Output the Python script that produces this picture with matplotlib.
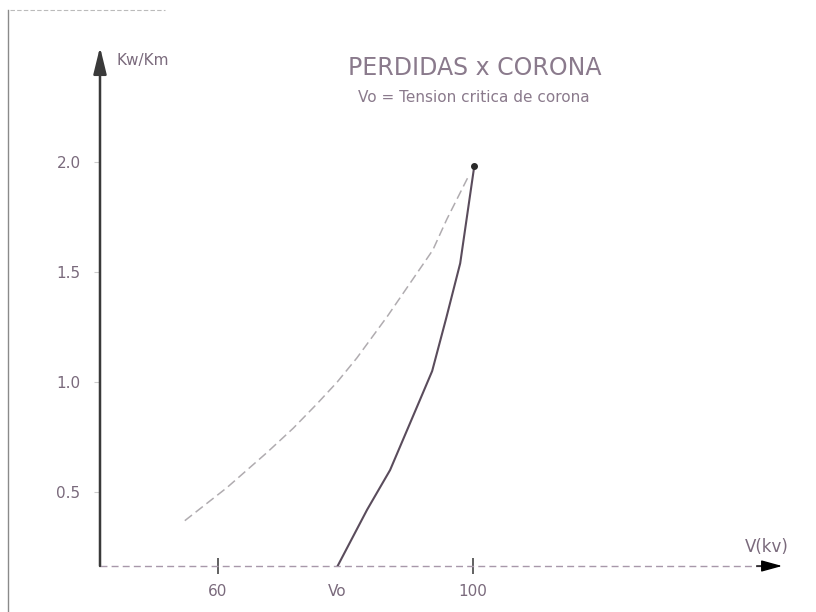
import matplotlib
matplotlib.use("Agg")
import matplotlib.pyplot as plt
from matplotlib.lines import Line2D

# ---- data ----
# light curve
v_light = [54.8, 61.4, 67.7, 71.8, 75.5, 78.7, 81.8, 86.6, 93.7, 95.9, 99.2]
p_light = [0.37, 0.52, 0.68, 0.79, 0.90, 1.00, 1.11, 1.30, 1.60, 1.74, 1.93]
# dark curve (starts at Vo)
v_dark = [78.7, 83.4, 87.0, 91.7, 93.6, 95.8, 98.0, 100.2]
p_dark = [0.16, 0.42, 0.60, 0.92, 1.05, 1.29, 1.54, 1.98]

x_ticks = [60, 100]
x_tick_labels = ["60", "100"]
vo_value = 78.7
vo_label = "Vo"
y_ticks = [0.5, 1.0, 1.5, 2.0]
y_tick_labels = ["0.5", "1.0", "1.5", "2.0"]

title = "PERDIDAS x CORONA"
subtitle = "Vo = Tension critica de corona"
ylabel = "Kw/Km"
xlabel = "V(kv)"

TXT = "#7a6a7c"
W, H = 816, 612

fig = plt.figure(figsize=(W / 100, H / 100), dpi=100)
fig.patch.set_facecolor("white")

ax = fig.add_axes([100 / W, (H - 566) / H, 700 / W, 526 / H])
x0, x1 = 41.5, 151.3
y0, y1 = 0.164, 2.555
ax.set_xlim(x0, x1)
ax.set_ylim(y0, y1)
for s in ax.spines.values():
    s.set_visible(False)
ax.patch.set_alpha(0)

# curves
ax.plot(v_light, p_light, color="#b0acb0", lw=1.1, ls=(0, (6, 3)), zorder=3)
ax.plot(v_dark, p_dark, color="#5a4c5c", lw=1.5, zorder=4)
ax.plot(v_dark[-1:], p_dark[-1:], marker="o", ms=4, color="#2a2a2a", zorder=5)

# y axis with arrow
ax.annotate("", xy=(x0, 2.523), xytext=(x0, y0),
            arrowprops=dict(arrowstyle="-|>,head_length=0.9,head_width=0.22",
                            color="#3a3a3a", lw=1.8,
                            mutation_scale=18, shrinkA=0, shrinkB=0),
            annotation_clip=False)
# x axis dashed with arrowhead
ax.plot([x0, 145.5], [y0, y0], color="#a898aa", lw=1.0, ls=(0, (5, 3)), clip_on=False)
ax.annotate("", xy=(148.5, y0), xytext=(144.5, y0),
            arrowprops=dict(arrowstyle="-|>,head_length=0.8,head_width=0.22",
                            color="black", lw=1.0,
                            mutation_scale=16, shrinkA=0, shrinkB=0),
            annotation_clip=False)

# ticks
ax.set_xticks(x_ticks)
ax.set_xticklabels(x_tick_labels)
ax.set_xticks([vo_value], minor=True)
ax.set_xticklabels([vo_label], minor=True)
ax.tick_params(axis="x", which="major", direction="inout", length=12, width=1.3,
               color="#555555", pad=7, labelsize=11, labelcolor=TXT)
ax.tick_params(axis="x", which="minor", length=0, pad=13, labelsize=11, labelcolor=TXT)
ax.set_yticks(y_ticks)
ax.set_yticklabels(y_tick_labels)
ax.tick_params(axis="y", direction="out", length=4, width=0.8, color="#cccccc",
               pad=10, labelsize=11, labelcolor=TXT)

# texts
fig.text(117 / W, 1 - 60 / H, ylabel, fontsize=11, color=TXT, va="center", ha="left")
fig.text(767 / W, 1 - 547 / H, xlabel, fontsize=12, color=TXT, va="center", ha="center")
fig.text(475 / W, 1 - 68 / H, title, fontsize=17, color="#8a7a8c", va="center",
         ha="center", fontstretch="expanded")
fig.text(474 / W, 1 - 98 / H, subtitle, fontsize=11, color="#8a7a8c", va="center", ha="center")

# scan border marks
fig.add_artist(Line2D([8 / W, 8 / W], [0, 1 - 10 / H], color="#8a8a8a", lw=1.0))
fig.add_artist(Line2D([10 / W, 165 / W], [1 - 10 / H, 1 - 10 / H], color="#bbbbbb",
                      lw=0.8, ls=(0, (4, 2))))

fig.savefig("out.png", dpi=100, facecolor="white")
